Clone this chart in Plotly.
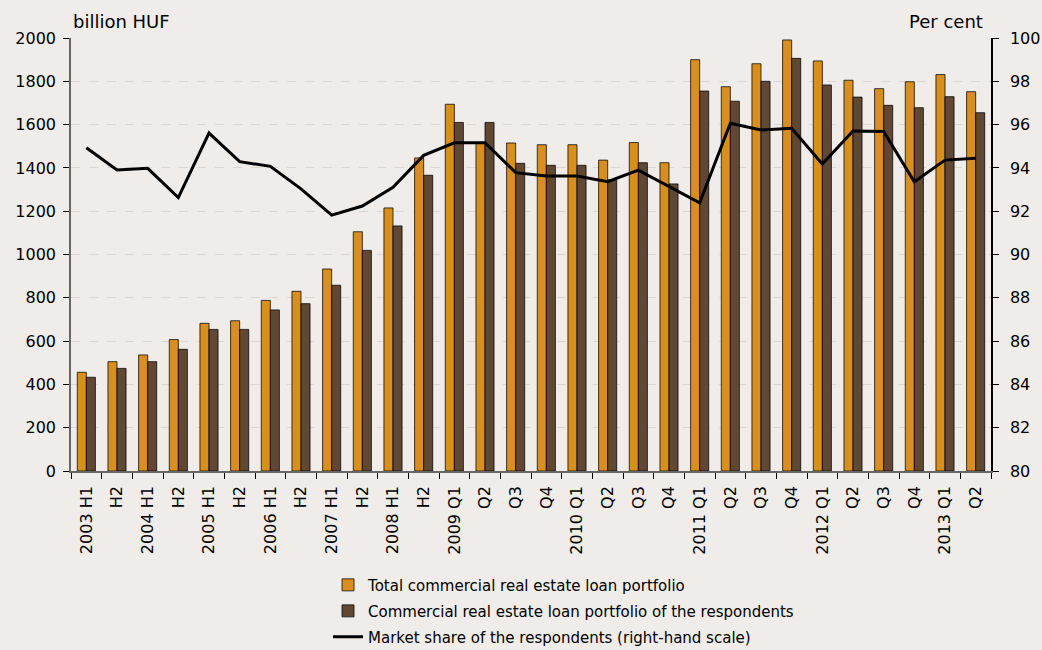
import plotly.graph_objects as go

categories = ["2003 H1", "2003 H2", "2004 H1", "2004 H2", "2005 H1", "2005 H2",
              "2006 H1", "2006 H2", "2007 H1", "2007 H2", "2008 H1", "2008 H2",
              "2009 Q1", "2009 Q2", "2009 Q3", "2009 Q4",
              "2010 Q1", "2010 Q2", "2010 Q3", "2010 Q4",
              "2011 Q1", "2011 Q2", "2011 Q3", "2011 Q4",
              "2012 Q1", "2012 Q2", "2012 Q3", "2012 Q4",
              "2013 Q1", "2013 Q2"]
tick_labels = ["2003 H1", "H2", "2004 H1", "H2", "2005 H1", "H2",
               "2006 H1", "H2", "2007 H1", "H2", "2008 H1", "H2",
               "2009 Q1", "Q2", "Q3", "Q4",
               "2010 Q1", "Q2", "Q3", "Q4",
               "2011 Q1", "Q2", "Q3", "Q4",
               "2012 Q1", "Q2", "Q3", "Q4",
               "2013 Q1", "Q2"]
total_portfolio = [456, 505, 536, 607, 682, 694, 788, 830, 933, 1105, 1215, 1446,
                   1694, 1517, 1515, 1507, 1507, 1436, 1517, 1424,
                   1900, 1775, 1881, 1991, 1894, 1805, 1766, 1798, 1831, 1752]
respondents_portfolio = [433, 474, 505, 562, 654, 654, 744, 773, 858, 1019, 1132, 1366,
                         1610, 1610, 1421, 1412, 1412, 1345, 1424, 1326,
                         1755, 1708, 1800, 1906, 1783, 1727, 1689, 1678, 1729, 1655]
market_share = [94.93, 93.90, 93.98, 92.63, 95.61, 94.29, 94.07, 93.03, 91.82, 92.24,
                93.10, 94.58, 95.16, 95.16, 93.78, 93.63, 93.63, 93.36, 93.90, 93.13,
                92.39, 96.06, 95.75, 95.83, 94.18, 95.70, 95.68, 93.36, 94.36, 94.44]

FONT = "DejaVu Sans"
BG = "#EFECE9"

fig = go.Figure()
fig.add_trace(go.Bar(x=categories, y=total_portfolio,
                     name="Total commercial real estate loan portfolio", legendgroup="a",
                     marker=dict(color="#D98F1E", line=dict(color="rgba(0,0,0,0.75)", width=1))))
fig.add_trace(go.Bar(x=categories, y=respondents_portfolio,
                     name="Commercial real estate loan portfolio of the respondents", legendgroup="b",
                     marker=dict(color="#604834", line=dict(color="rgba(0,0,0,0.75)", width=1))))
fig.add_trace(go.Scatter(x=categories, y=market_share, yaxis="y2", mode="lines",
                         name="Market share of the respondents (right-hand scale)", legendgroup="c",
                         line=dict(color="black", width=3)))

fig.update_layout(
    width=1042, height=650,
    paper_bgcolor=BG, plot_bgcolor=BG,
    font=dict(family=FONT, size=16, color="black"),
    margin=dict(l=71, r=51, t=38, b=179, autoexpand=False),
    barmode="group", bargap=0.41, bargroupgap=0,
    showlegend=True,
    legend=dict(orientation="v", xref="container", yref="container",
                x=0.3148, xanchor="left", y=0.1252, yanchor="top",
                font=dict(family=FONT, size=15), bgcolor="rgba(0,0,0,0)",
                itemwidth=30, tracegroupgap=3.5, traceorder="grouped"),
    xaxis=dict(type="category", tickmode="array", tickvals=categories, ticktext=tick_labels,
               tickangle=-90, tickson="boundaries", ticks="outside", ticklen=6,
               tickcolor="black", showline=True, linecolor="#666", linewidth=1.5,
               ticklabelstandoff=7, automargin=False,
               showgrid=False, tickfont=dict(size=16), range=[-0.5, 29.5]),
    yaxis=dict(range=[0, 2000], dtick=200, ticks="outside", ticklen=6, tickcolor="black",
               showline=True, linecolor="#666", linewidth=1.5, ticklabelstandoff=4,
               showgrid=True, gridcolor="#DAD7D3", griddash="dash", gridwidth=1,
               zeroline=False, tickfont=dict(size=16), automargin=False),
    yaxis2=dict(range=[80, 100], dtick=2, overlaying="y", side="right",
                ticks="outside", ticklen=6, tickcolor="black", ticklabelstandoff=8,
                showline=True, linecolor="black", linewidth=1.5, automargin=False,
                showgrid=False, zeroline=False, tickfont=dict(size=16)),
    annotations=[
        dict(text="billion HUF", xref="paper", yref="paper", x=0, y=1, xanchor="left",
             yanchor="bottom", yshift=4, showarrow=False, font=dict(size=18)),
        dict(text="Per cent", xref="paper", yref="paper", x=0.9935, y=1, xanchor="right",
             yanchor="bottom", yshift=4, showarrow=False, font=dict(size=18)),
    ],
)

fig.write_html("out.html", config={"displayModeBar": False},
               post_script="document.body.style.margin='0';document.body.style.overflow='hidden';")
